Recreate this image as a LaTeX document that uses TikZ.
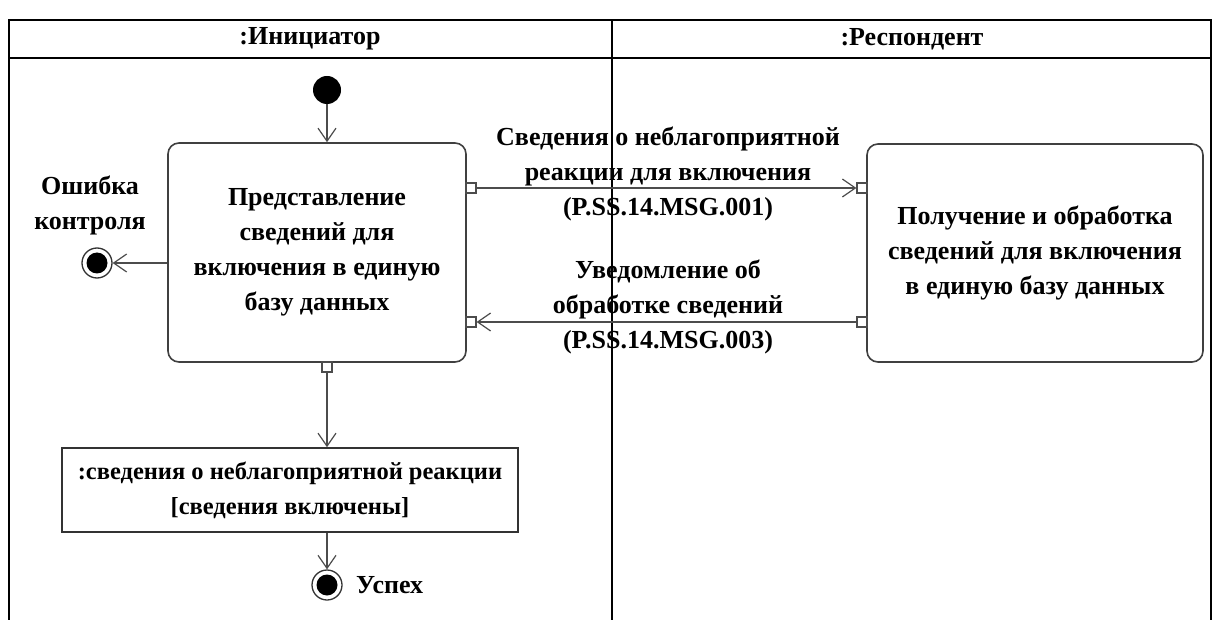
\documentclass[tikz,border=0pt]{standalone}
\usepackage{fontspec}
\setmainfont{Liberation Serif}
\usetikzlibrary{arrows.meta,calc}

\tikzset{
    lbl/.style={font=\fontsize{26}{35}\selectfont\bfseries, align=center, inner sep=0pt},
    action/.style={draw=black!75, line width=1.6pt, rounded corners=11pt, fill=white, inner sep=0pt},
    objbox/.style={draw=black!80, line width=1.6pt, fill=white, inner sep=0pt},
    pinbox/.style={draw=black!70, line width=1.2pt, fill=white, minimum size=10pt, inner sep=0pt},
    flow/.style={draw=black!70, line width=1.3pt, -{Straight Barb[length=13pt,width=18pt,line width=1.2pt]}},
    endnode/.style={circle, draw=black!80, line width=1.3pt, fill=white, minimum size=30pt, inner sep=0pt,
        path picture={\fill[black] (path picture bounding box.center) circle (10.5pt);}},
}

\begin{document}
\begin{tikzpicture}[x=1pt, y=-1pt]
    \useasboundingbox (0,0) rectangle (1212,620);

    % Дорожки
    \draw[line width=1.5pt] (9,620) -- (9,20) -- (1211,20) -- (1211,620);
    \draw[line width=1.5pt] (9,58) -- (1211,58);
    \draw[line width=1.5pt] (612,20) -- (612,620);
    \node[lbl] (laneI) at (310,39) {:Инициатор};
    \node[lbl] (laneR) at (912,39) {:Респондент};

    % Узлы
    \node[circle, fill, minimum size=28pt, inner sep=0pt] (start) at (327,90) {};
    \node[action, minimum width=298pt, minimum height=219pt] (present) at (317,252.5) {};
    \node[lbl] at (present.center) {Представление\\сведений для\\включения в единую\\базу данных};
    \node[action, minimum width=336pt, minimum height=218pt] (receive) at (1035,253) {};
    \node[lbl] at (receive.center) {Получение и обработка\\сведений для включения\\в единую базу данных};
    \node[objbox, minimum width=456pt, minimum height=84pt] (info) at (290,490) {};
    \node[lbl, font=\fontsize{24.5}{35}\selectfont\bfseries] at (info.center) {:сведения о неблагоприятной реакции\\{}[сведения включены]};

    % Конечные узлы
    \node[endnode] (errend) at (97,263) {};
    \node[lbl] (errtxt) at (90,205) {Ошибка\\контроля};
    \node[endnode] (okend) at (327,585) {};
    \node[lbl, anchor=west] (oktxt) at (356,585) {Успех};

    % Пины
    \node[pinbox] (outA) at (471,188) {};
    \node[pinbox] (inA) at (862,188) {};
    \node[pinbox] (outB) at (862,322) {};
    \node[pinbox] (inB) at (471,322) {};
    \node[pinbox] (outC) at (327,367) {};

    % Переходы
    \draw[flow] (start) -- (start |- present.north);
    \draw[flow] (present.west |- errend) -- (errend);
    \draw[flow] (outA) -- (inA);
    \draw[flow] (outB) -- (inB);
    \draw[flow] (outC) -- (outC |- info.north);
    \draw[flow] (okend |- info.south) -- (okend);

    % Сообщения
    \node[lbl] (msg1) at (668,174) {Сведения о неблагоприятной\\реакции для включения\\(P.SS.14.MSG.001)};
    \node[lbl] (msg2) at (668,307) {Уведомление об\\обработке сведений\\(P.SS.14.MSG.003)};
\end{tikzpicture}
\end{document}
